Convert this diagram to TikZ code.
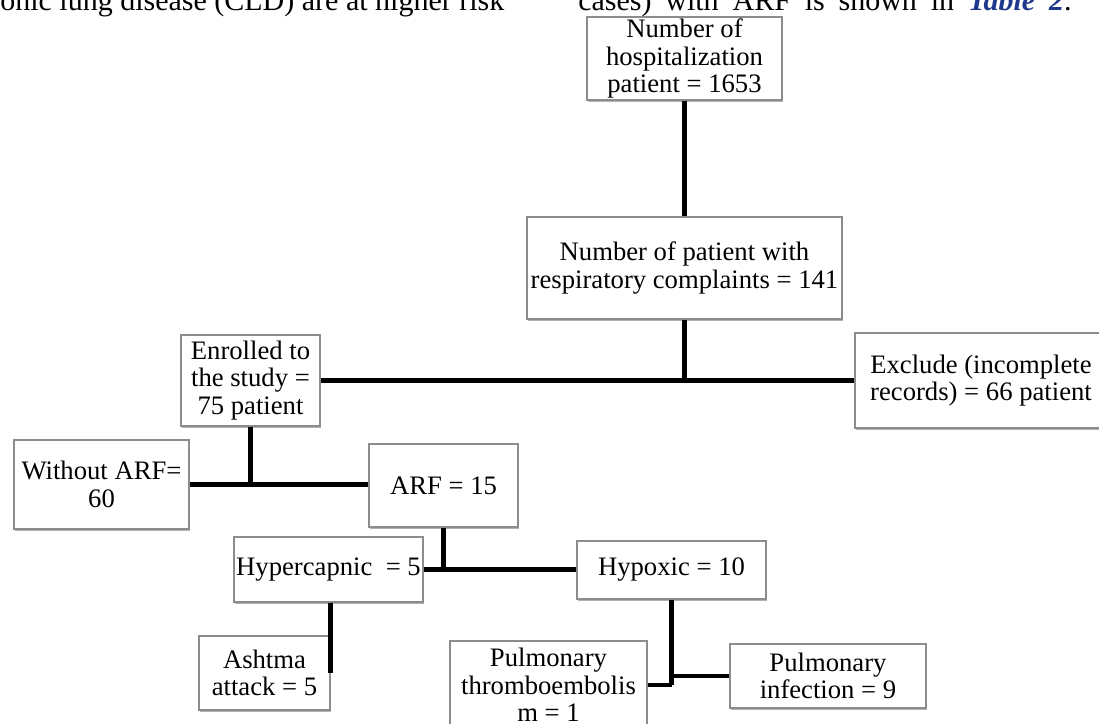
\documentclass[tikz,border=0pt]{standalone}
\usepackage{fontspec}
\setmainfont{Liberation Serif}
\usetikzlibrary{shadows}
\definecolor{tblue}{RGB}{32,56,140}
\definecolor{bordergray}{RGB}{140,140,140}
\begin{document}
\begin{tikzpicture}[x=0.75pt,y=-0.75pt,
  bx/.style 2 args={draw=bordergray, line width=0.8pt, fill=white, inner sep=0pt, align=center,
    minimum width=#1*0.75pt, minimum height=#2*0.75pt,
    font=\fontsize{20}{20.5}\selectfont,
    drop shadow={shadow xshift=1pt, shadow yshift=-1.5pt, opacity=0.3, fill=black}},
  hdr/.style={anchor=base west, inner sep=0pt, font=\fontsize{22.5}{27}\selectfont},
  conn/.style={line width=3.2pt, black}]
\useasboundingbox (0,0) rectangle (1099,724);
\clip (0,0) rectangle (1099,724);

% header text (cut page fragment)
\node[hdr] (hl) at (0,11) {onic lung disease (CLD) are at higher risk};
\node[hdr] (hr) at (578,11) {\hbox to 370pt{cases)\hfill with\hfill ARF\hfill is\hfill shown\hfill in\hfill \textcolor{tblue}{\textbf{\textit{Table\hfill 2}}}.}};

% boxes
\node[bx={195}{83}] (b1) at (684.5,58.5) {Number of\\hospitalization\\patient = 1653};
\node[bx={315}{102}] (b2) at (684.5,268) {Number of patient with\\respiratory complaints = 141};
\node[bx={139}{91}] (enr) at (250.5,380.5) {Enrolled to\\the study =\\75 patient};
\node[bx={252}{95}] (exc) at (981,380.5) {Exclude (incomplete\\records) = 66 patient};
\node[bx={175}{89}] (wo) at (101.5,484.5) {Without ARF=\\60};
\node[bx={149}{83}] (arf) at (443.5,485.5) {ARF = 15};
\node[bx={189}{65}] (hyc) at (328.5,569.5) {Hypercapnic\ \ = 5};
\node[bx={189}{58}] (hypo) at (671.5,570) {Hypoxic = 10};
\node[bx={131}{74}] (ash) at (264.5,673) {Ashtma\\attack = 5};
\node[bx={197}{88}] (pte) at (548.5,685) {Pulmonary\\thromboembolis\\m = 1};
\node[bx={196}{64}] (pin) at (828,676) {Pulmonary\\infection = 9};

% connectors
\draw[conn] (b1.south) -- (b2.north);
\draw[conn] (b2.south) -- (b2.south |- enr.east);
\draw[conn] (enr.east) -- (exc.west);
\draw[conn] (enr.south) -- (enr.south |- wo.east);
\draw[conn] (wo.east) -- (wo.east -| arf.west);
\draw[conn] (arf.south) -- (arf.south |- hyc.east);
\draw[conn] (hyc.east) -- (hyc.east -| hypo.west);
\draw[conn] (ash.east |- hyc.south) -- (ash.east);
\draw[conn] (hypo.south) -- (hypo.south |- pte.east);
\draw[conn] (pte.east) -- (hypo.south |- pte.east);
\draw[conn] (hypo.south |- pin.west) -- (pin.west);
\end{tikzpicture}
\end{document}
